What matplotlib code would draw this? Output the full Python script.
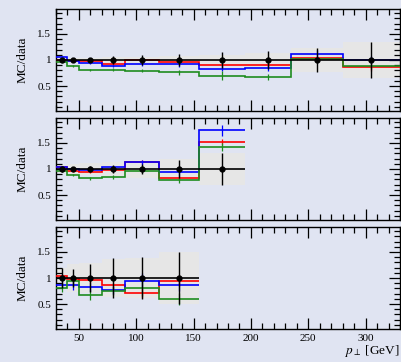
import numpy as np
import matplotlib
matplotlib.use('Agg')
import matplotlib.pyplot as plt
from matplotlib.ticker import MultipleLocator

plt.rcParams['font.family'] = ['Liberation Serif', 'DejaVu Serif']
plt.rcParams['mathtext.fontset'] = 'stix'

BG = '#e0e4f2'
BAND = '#e6e6e6'
RED, BLUE, GREEN = '#ff0000', '#0000ff', '#1e8c1e'

# bin edges per panel
edges_1 = [30, 40, 50, 70, 90, 120, 155, 195, 235, 280, 330]
edges_2 = [30, 40, 50, 70, 90, 120, 155, 195]
edges_3 = [30, 40, 50, 70, 90, 120, 155]

# panel 1
data_err_1 = [0.04, 0.04, 0.04, 0.07, 0.10, 0.12, 0.15, 0.17, 0.24, 0.34]
band_1 = [0.03, 0.03, 0.04, 0.05, 0.06, 0.07, 0.10, 0.13, 0.24, 0.34]
red_1 = [1.00, 0.98, 0.98, 0.915, 1.00, 0.96, 0.904, 0.904, 1.03, 0.86]
blue_1 = [1.065, 0.98, 0.935, 0.885, 0.915, 0.915, 0.83, 0.84, 1.12, 1.00]
green_1 = [0.955, 0.885, 0.815, 0.81, 0.79, 0.765, 0.70, 0.67, 1.01, 0.89]
red_err_1 = [0.01, 0.01, 0.01, 0.02, 0.02, 0.03, 0.03, 0.04, 0.05, 0.07]
blue_err_1 = [0.01, 0.01, 0.02, 0.02, 0.03, 0.04, 0.05, 0.06, 0.08, 0.07]
green_err_1 = [0.01, 0.02, 0.02, 0.03, 0.03, 0.05, 0.08, 0.06, 0.05, 0.06]

# panel 2
data_err_2 = [0.05, 0.04, 0.06, 0.07, 0.10, 0.18, 0.30]
band_2 = [0.07, 0.10, 0.12, 0.13, 0.17, 0.20, 0.31]
red_2 = [1.045, 0.955, 0.935, 0.99, 1.14, 0.83, 1.52]
blue_2 = [1.03, 1.00, 0.99, 1.03, 1.13, 0.935, 1.74]
green_2 = [0.97, 0.885, 0.825, 0.84, 0.97, 0.78, 1.42]
red_err_2 = [0.01, 0.02, 0.02, 0.03, 0.04, 0.04, 0.06]
blue_err_2 = [0.02, 0.02, 0.03, 0.03, 0.05, 0.06, 0.11]
green_err_2 = [0.02, 0.02, 0.03, 0.04, 0.05, 0.05, 0.08]

# panel 3
data_err_3 = [0.20, 0.17, 0.27, 0.38, 0.40, 0.50]
band_3 = [0.20, 0.26, 0.28, 0.37, 0.38, 0.50]
red_3 = [1.04, 0.99, 0.955, 0.865, 0.705, 0.95]
blue_3 = [0.87, 0.86, 0.83, 0.775, 0.94, 0.87]
green_3 = [0.815, 0.95, 0.67, 0.75, 0.81, 0.595]
red_err_3 = [0.03, 0.04, 0.05, 0.06, 0.08, 0.10]
blue_err_3 = [0.05, 0.10, 0.08, 0.08, 0.15, 0.12]
green_err_3 = [0.08, 0.10, 0.10, 0.07, 0.15, 0.12]

panels = [
    (edges_1, data_err_1, band_1, [(red_1, red_err_1, RED), (blue_1, blue_err_1, BLUE), (green_1, green_err_1, GREEN)]),
    (edges_2, data_err_2, band_2, [(red_2, red_err_2, RED), (blue_2, blue_err_2, BLUE), (green_2, green_err_2, GREEN)]),
    (edges_3, data_err_3, band_3, [(red_3, red_err_3, RED), (blue_3, blue_err_3, BLUE), (green_3, green_err_3, GREEN)]),
]

fig = plt.figure(figsize=(4.01, 3.62), dpi=100, facecolor=BG)
W, H = 401.0, 362.0
left, right = 56 / W, 400 / W
tops = [9, 118, 227]
ph = 102

axes = []
for i, (edges, derr, band, mcs) in enumerate(panels):
    top = tops[i]
    ax = fig.add_axes([left, 1 - (top + ph) / H, right - left, ph / H])
    ax.set_facecolor(BG)
    edges = np.array(edges, dtype=float)
    centers = 0.5 * (edges[:-1] + edges[1:])
    ones = np.ones(len(centers))
    band = np.array(band)
    ax.stairs(ones + band, edges, baseline=ones - band, fill=True, color=BAND, lw=0, zorder=1)
    for vals, errs, col in mcs:
        ax.stairs(vals, edges, baseline=None, color=col, lw=1.2, zorder=3)
        ax.errorbar(centers, vals, yerr=errs, fmt='none', ecolor=col, elinewidth=0.9, zorder=3)
    ax.stairs(ones, edges, baseline=None, color='black', lw=1.2, zorder=4)
    ax.errorbar(centers, ones, yerr=derr, fmt='o', color='black', ms=3.5,
                elinewidth=1.0, zorder=5)

    ax.set_xlim(30, 330)
    ax.set_ylim(0.02, 1.98)
    ax.yaxis.set_minor_locator(MultipleLocator(0.1))
    ax.xaxis.set_major_locator(MultipleLocator(50))
    ax.xaxis.set_minor_locator(MultipleLocator(10))
    ax.set_yticks([0.5, 1.0, 1.5])
    ax.set_yticklabels(['0.5', '1', '1.5'])
    ax.tick_params(which='both', direction='in', top=True, right=True, width=0.9,
                   labelsize=8, color='black')
    ax.tick_params(which='major', length=8)
    ax.tick_params(which='minor', length=4)
    for sp in ax.spines.values():
        sp.set_linewidth(1.0)
    ax.set_ylabel('MC/data', fontsize=9.5, labelpad=6)
    if i < 2:
        ax.tick_params(labelbottom=False)
    axes.append(ax)

axes[-1].set_xlabel(r'$p_\perp$ [GeV]', fontsize=9.5, loc='right', labelpad=0)

fig.savefig('out.png', dpi=100, facecolor=BG)
